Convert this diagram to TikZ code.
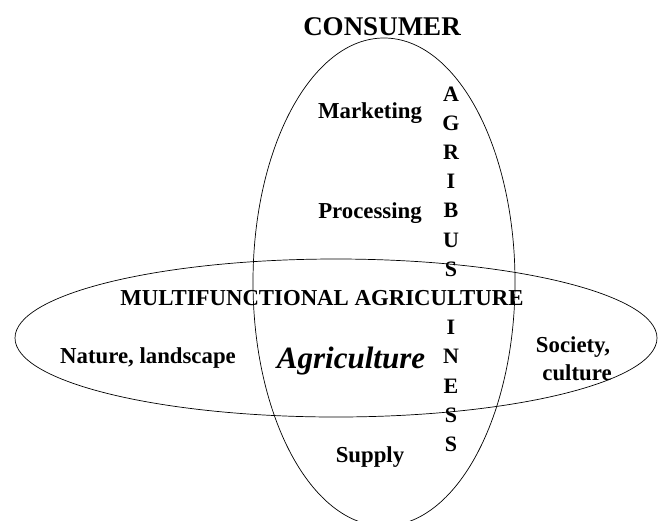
\documentclass[tikz,border=0pt]{standalone}
\usepackage{fontspec}
\setmainfont{Liberation Serif}
\begin{document}
\begin{tikzpicture}[x=1pt,y=-1pt,
  lbl/.style={anchor=base,inner sep=0pt,font=\fontsize{22.8}{27}\selectfont\bfseries},
  ltr/.style={anchor=base,inner sep=0pt,font=\fontsize{22}{26}\selectfont\bfseries},
  ring/.style={draw=black,line width=0.7pt}]
\useasboundingbox (0,0) rectangle (660,520);
\draw[ring] (384,282) ellipse [x radius=131pt, y radius=244pt];
\draw[ring] (336,338) ellipse [x radius=321pt, y radius=79pt];
\node[anchor=base,inner sep=0pt,font=\fontsize{27}{32}\selectfont\bfseries] (consumer) at (382,35) {CONSUMER};
\node[lbl] (marketing) at (370,118) {Marketing};
\node[lbl] (processing) at (370,218) {Processing};
\node[lbl] (supply) at (370,462) {Supply};
\node[lbl] (multi) at (322,305) {MULTIFUNCTIONAL AGRICULTURE};
\node[lbl] (nature) at (148,363) {Nature, landscape};
\node[lbl] (society) at (573,352) {Society,};
\node[lbl] (culture) at (577,380) {culture};
\node[anchor=base,inner sep=0pt,font=\fontsize{31}{36}\selectfont\bfseries\itshape] (agri) at (351,368) {Agriculture};
\foreach \ch/\k [count=\i] in {A/0,G/1,R/2,I/3,B/4,U/5,S/6,I/8,N/9,E/10,S/11,S/12}
  \node[ltr] (l\i) at (451,{101+29.2*\k}) {\ch};
\end{tikzpicture}
\end{document}
